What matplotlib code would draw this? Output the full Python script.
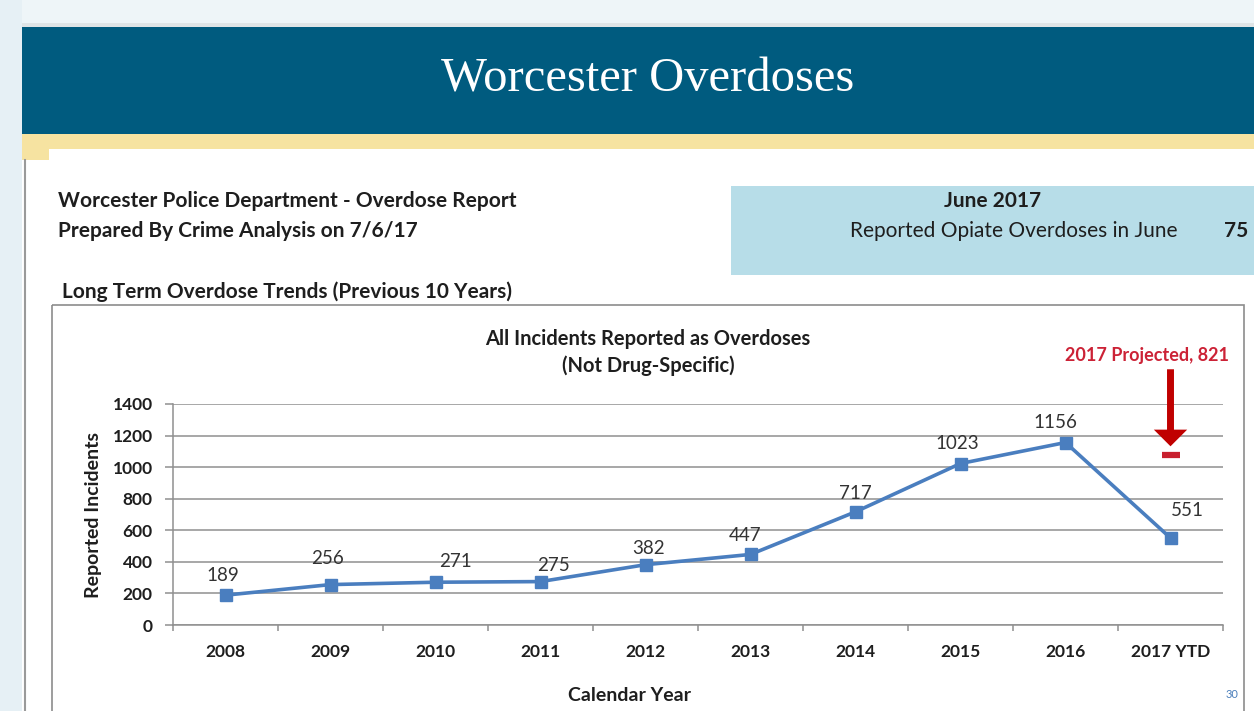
import matplotlib
matplotlib.use("Agg")
import matplotlib.pyplot as plt
from matplotlib.patches import Rectangle

# data
years = ["2008", "2009", "2010", "2011", "2012", "2013", "2014", "2015", "2016", "2017 YTD"]
incidents = [189, 256, 271, 275, 382, 447, 717, 1023, 1156, 551]
projected_label = "2017 Projected, 821"
projected_mark = 1077   # where the red dash sits on the y scale
june_count = 75

W, H = 1254, 711
fig = plt.figure(figsize=(W / 100, H / 100), dpi=100)
fig.patch.set_facecolor("#eef5f8")
plt.rcParams["font.family"] = ["Lato", "DejaVu Sans"]

# background / slide decoration in pixel coordinates
bg = fig.add_axes([0, 0, 1, 1])
bg.set_xlim(0, W)
bg.set_ylim(H, 0)
bg.axis("off")

bg.add_patch(Rectangle((0, 0), 22, H, color="#e6f0f5", lw=0))
bg.add_patch(Rectangle((22, 27), W - 22, H - 27, color="white", lw=0))
bg.add_patch(Rectangle((22, 23), W - 22, 4, color="#dfe4e6", lw=0))
bg.add_patch(Rectangle((22, 27), W - 22, 107, color="#005b7f", lw=0))
bg.add_patch(Rectangle((22, 134), W - 22, 15, color="#f6e3a1", lw=0))
bg.add_patch(Rectangle((22, 149), 27, 11, color="#f6e3a1", lw=0))
bg.plot([25, 25], [160, H], color="#9a9a9a", lw=1.5)
bg.add_patch(Rectangle((731, 186), W - 731, 89, color="#b7dde8", lw=0))
bg.add_patch(Rectangle((52, 305), 1192, 420, fill=False, ec="#8c8c8c", lw=1.2))

bg.text(648, 80, "Worcester Overdoses", ha="center", va="center", color="white",
        fontsize=35, family=["Liberation Serif", "DejaVu Serif"])

dark = "#1e1e1e"
bg.text(58, 201, "Worcester Police Department - Overdose Report", ha="left", va="center",
        fontsize=15, fontweight="bold", color=dark)
bg.text(58, 231, "Prepared By Crime Analysis on 7/6/17", ha="left", va="center",
        fontsize=15, fontweight="bold", color=dark)
bg.text(62, 292, "Long Term Overdose Trends (Previous 10 Years)", ha="left", va="center",
        fontsize=15, fontweight="bold", color=dark)
bg.text(993, 201, "June 2017", ha="center", va="center",
        fontsize=15, fontweight="bold", color=dark)
bg.text(850, 231, "Reported Opiate Overdoses in June", ha="left", va="center",
        fontsize=15, color=dark)
bg.text(1248, 231, str(june_count), ha="right", va="center",
        fontsize=15, fontweight="bold", color=dark)

bg.text(648, 339, "All Incidents Reported as Overdoses", ha="center", va="center",
        fontsize=14.5, fontweight="bold", color=dark)
bg.text(648, 366, "(Not Drug-Specific)", ha="center", va="center",
        fontsize=14.5, fontweight="bold", color=dark)
bg.text(1232, 694, "30", ha="center", va="center", fontsize=8, color="#4a7ebb")

# the chart itself
ax = fig.add_axes([173 / W, 1 - 625 / H, 1050 / W, 221 / H])
ax.set_facecolor("none")
x = list(range(len(years)))
ax.plot(x, incidents, color="#4a7ebf", lw=2.6, marker="s", ms=8, zorder=3)

label_offsets = [(-3, 20), (-3, 26), (20, 21), (13, 16), (3, 16),
                 (-5, 19), (0, 18), (-3, 20), (-10, 20), (17, 28)]
for xi, v, off in zip(x, incidents, label_offsets):
    ax.annotate(str(v), (xi, v), xytext=off, textcoords="offset pixels",
                ha="center", va="center", fontsize=13.5, color="#333333")

ax.set_xlim(-0.5, len(years) - 0.5)
ax.set_ylim(0, 1400)
ax.set_yticks(range(0, 1401, 200))
ax.set_xticks(x)
ax.set_xticklabels(years)
ax.set_xticks([i - 0.5 for i in range(len(years) + 1)], minor=True)
ax.grid(axis="y", color="#8f8f8f", lw=1.1)
ax.set_axisbelow(True)
for s in ["top", "right"]:
    ax.spines[s].set_visible(False)
for s in ["left", "bottom"]:
    ax.spines[s].set_color("#8f8f8f")
    ax.spines[s].set_linewidth(1.1)
ax.tick_params(axis="x", which="major", length=0, pad=14)
ax.tick_params(axis="x", which="minor", length=4.5, color="#8f8f8f", width=1.1)
ax.tick_params(axis="y", length=5.5, color="#8f8f8f", width=1.1, pad=9)
for t in ax.get_xticklabels() + ax.get_yticklabels():
    t.set_fontweight("bold")
    t.set_fontsize(12.5)
    t.set_color(dark)

ax.set_ylabel("Reported Incidents", fontsize=14, fontweight="bold", color=dark)
ax.yaxis.set_label_coords(-0.068, 0.5)
ax.set_xlabel("Calendar Year", fontsize=14, fontweight="bold", color=dark)
ax.xaxis.set_label_coords(0.435, -0.28)

# projection callout
ax.text(8.78, 1710, projected_label, ha="center", va="center", fontsize=13,
        fontweight="bold", color="#cc2236", clip_on=False)
ax.annotate("", xy=(9, projected_mark + 55), xytext=(9, 1620),
            arrowprops=dict(width=5, headwidth=24, headlength=12, color="#c00000", lw=0),
            annotation_clip=False)
ax.plot(9, projected_mark, marker="_", ms=13, mew=4.5, color="#c8202e", clip_on=False)

fig.savefig("out.png", dpi=100, facecolor=fig.get_facecolor())
